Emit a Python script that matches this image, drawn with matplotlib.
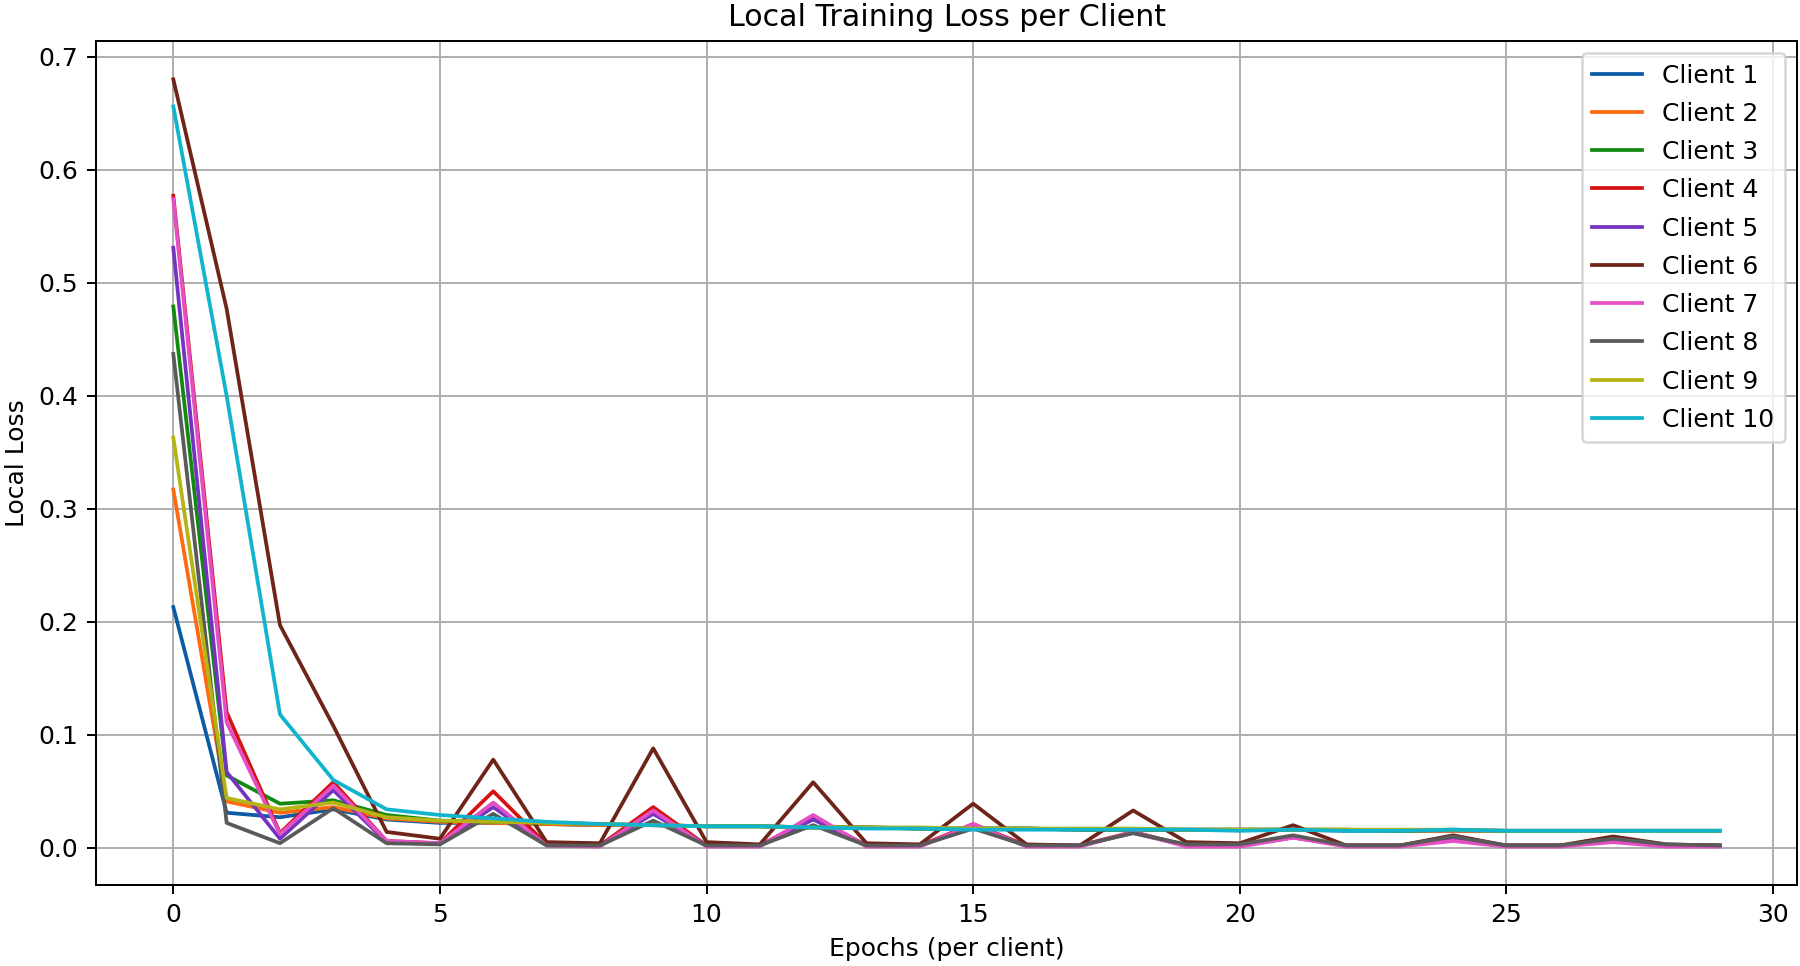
import matplotlib
matplotlib.use("Agg")
import matplotlib.pyplot as plt

# -----------------------------
# Local loss per client
# -----------------------------
epochs = list(range(30))

client_1 = [0.213, 0.031, 0.027, 0.034, 0.025, 0.022, 0.022, 0.021, 0.020, 0.020,
            0.019, 0.019, 0.018, 0.018, 0.017, 0.017, 0.017, 0.016, 0.016, 0.016,
            0.016, 0.016, 0.015, 0.015, 0.015, 0.015, 0.015, 0.015, 0.015, 0.015]
client_2 = [0.317, 0.041, 0.031, 0.036, 0.026, 0.023, 0.022, 0.021, 0.020, 0.020,
            0.019, 0.019, 0.018, 0.018, 0.017, 0.017, 0.017, 0.016, 0.016, 0.016,
            0.016, 0.016, 0.016, 0.015, 0.015, 0.015, 0.015, 0.015, 0.015, 0.015]
client_3 = [0.479, 0.064, 0.039, 0.042, 0.029, 0.024, 0.023, 0.022, 0.021, 0.020,
            0.019, 0.019, 0.018, 0.018, 0.017, 0.017, 0.017, 0.016, 0.016, 0.016,
            0.016, 0.016, 0.016, 0.015, 0.016, 0.015, 0.015, 0.015, 0.015, 0.015]
client_4 = [0.577, 0.120, 0.013, 0.058, 0.006, 0.004, 0.050, 0.003, 0.002, 0.036,
            0.002, 0.002, 0.027, 0.002, 0.002, 0.021, 0.002, 0.002, 0.014, 0.002,
            0.002, 0.010, 0.002, 0.002, 0.008, 0.002, 0.002, 0.006, 0.002, 0.002]
client_5 = [0.531, 0.067, 0.008, 0.051, 0.005, 0.004, 0.036, 0.003, 0.002, 0.030,
            0.002, 0.002, 0.025, 0.002, 0.002, 0.018, 0.002, 0.002, 0.013, 0.002,
            0.002, 0.009, 0.002, 0.002, 0.007, 0.002, 0.002, 0.006, 0.002, 0.002]
client_6 = [0.680, 0.477, 0.197, 0.108, 0.014, 0.008, 0.078, 0.005, 0.004, 0.088,
            0.005, 0.003, 0.058, 0.004, 0.003, 0.039, 0.003, 0.002, 0.033, 0.005,
            0.004, 0.020, 0.002, 0.002, 0.011, 0.002, 0.002, 0.010, 0.003, 0.002]
client_7 = [0.574, 0.111, 0.012, 0.055, 0.006, 0.004, 0.040, 0.002, 0.001, 0.033,
            0.001, 0.001, 0.029, 0.001, 0.001, 0.021, 0.001, 0.001, 0.014, 0.001,
            0.001, 0.009, 0.001, 0.001, 0.006, 0.001, 0.001, 0.005, 0.001, 0.001]
client_8 = [0.437, 0.022, 0.004, 0.035, 0.004, 0.003, 0.030, 0.002, 0.002, 0.024,
            0.002, 0.002, 0.020, 0.002, 0.002, 0.017, 0.002, 0.002, 0.013, 0.003,
            0.003, 0.011, 0.002, 0.002, 0.010, 0.002, 0.002, 0.008, 0.003, 0.002]
client_9 = [0.363, 0.044, 0.034, 0.040, 0.027, 0.024, 0.023, 0.022, 0.021, 0.020,
            0.019, 0.019, 0.018, 0.018, 0.018, 0.017, 0.017, 0.017, 0.017, 0.016,
            0.016, 0.016, 0.016, 0.016, 0.016, 0.015, 0.015, 0.015, 0.015, 0.015]
client_10 = [0.656, 0.400, 0.118, 0.060, 0.034, 0.029, 0.026, 0.023, 0.021, 0.020,
             0.019, 0.019, 0.018, 0.017, 0.017, 0.016, 0.016, 0.016, 0.016, 0.016,
             0.015, 0.016, 0.015, 0.015, 0.016, 0.015, 0.015, 0.015, 0.015, 0.015]

clients = [client_1, client_2, client_3, client_4, client_5,
           client_6, client_7, client_8, client_9, client_10]
labels = [f"Client {i}" for i in range(1, 11)]

# slightly punchier than tab10, as in the reference image
colors = ["#0d5aa7", "#ff6a10", "#128a12", "#d41414", "#7434c0",
          "#6e2418", "#e450c4", "#5a5a5a", "#b4b414", "#10b4cc"]

# -----------------------------
# Plot
# -----------------------------
fig = plt.figure(figsize=(10, 5.3667), dpi=180)
ax = fig.add_axes([96 / 1800, 1 - 885 / 966, (1797 - 96) / 1800, (885 - 41) / 966])

for losses, label, c in zip(clients, labels, colors):
    ax.plot(epochs, losses, label=label, color=c)

ax.set_title("Local Training Loss per Client")
ax.set_xlabel("Epochs (per client)")
ax.set_ylabel("Local Loss")
ax.grid(True)
ax.legend(loc="upper right", labelspacing=0.57)

fig.savefig("out.png", dpi=180)
